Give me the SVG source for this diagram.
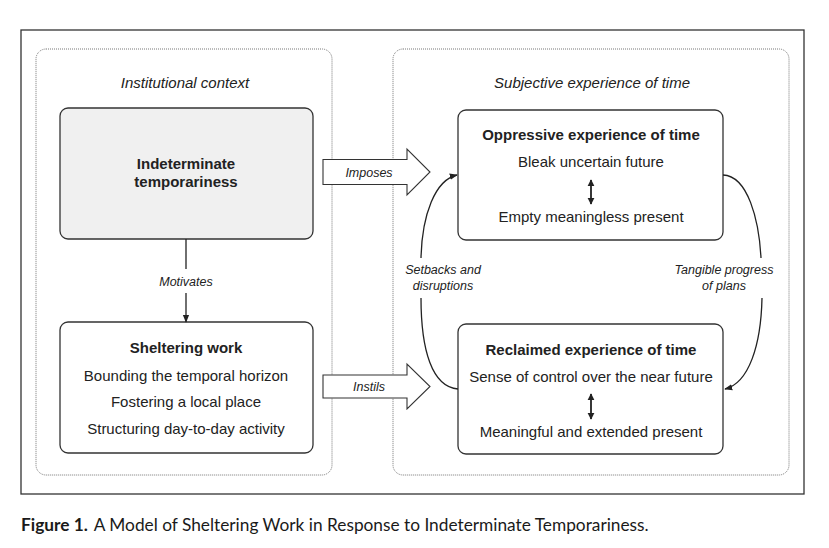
<svg xmlns="http://www.w3.org/2000/svg" width="829" height="548" viewBox="0 0 829 548">
<defs>
<marker id="ah" viewBox="0 0 10 10" refX="9" refY="5" markerWidth="8" markerHeight="8" markerUnits="userSpaceOnUse" orient="auto-start-reverse">
<path d="M0,1 L10,5 L0,9 Z" fill="#222"/>
</marker>
<marker id="dh" viewBox="0 0 10 10" refX="9" refY="5" markerWidth="7" markerHeight="8" markerUnits="userSpaceOnUse" orient="auto-start-reverse">
<path d="M0,0 L10,5 L0,10 Z" fill="#222"/>
</marker>
</defs>
<style>
.frame{fill:#fff;stroke:#333;stroke-width:1.3}
.dot{fill:none;stroke:#777;stroke-width:1;stroke-dasharray:1 1}
.node{fill:#fff;stroke:#333;stroke-width:1.3}
.grey{fill:#f0f0f0}
.t{font-family:"Liberation Sans",Arial,sans-serif;font-size:15px;fill:#222;text-anchor:middle}
.b{font-weight:bold}
.i{font-style:italic}
.lab{font-family:"Liberation Sans",Arial,sans-serif;font-size:12.5px;font-style:italic;fill:#222;text-anchor:middle}
.ln{fill:none;stroke:#222;stroke-width:1.3}
.dbl{fill:none;stroke:#222;stroke-width:1.8}
.blk{fill:#fff;stroke:#333;stroke-width:1.1}
.cap{font-family:Lato,"Open Sans",sans-serif;font-size:17.3px;fill:#1a1a1a}
</style>
<rect width="829" height="548" fill="#fff"/>
<rect class="frame" x="21" y="30" width="783" height="464"/>
<g id="group-institutional">
<rect class="dot" x="36" y="49" width="296" height="426" rx="10"/>
<text class="t i" x="185" y="88">Institutional context</text>
</g>
<g id="group-subjective">
<rect class="dot" x="393" y="49" width="396" height="426" rx="10"/>
<text class="t i" x="592" y="88">Subjective experience of time</text>
</g>
<g id="node-indeterminate">
<rect class="node grey" x="60" y="108" width="253" height="131" rx="8"/>
<text class="t b" x="186" y="169">Indeterminate</text>
<text class="t b" x="186" y="187">temporariness</text>
</g>
<g id="node-sheltering">
<rect class="node" x="60" y="322" width="253" height="131" rx="8"/>
<text class="t b" x="186" y="353">Sheltering work</text>
<text class="t" x="186" y="381">Bounding the temporal horizon</text>
<text class="t" x="186" y="407">Fostering a local place</text>
<text class="t" x="186" y="434">Structuring day-to-day activity</text>
</g>
<g id="node-oppressive">
<rect class="node" x="458" y="110" width="265" height="130" rx="8"/>
<text class="t b" x="591" y="140">Oppressive experience of time</text>
<text class="t" x="591" y="167">Bleak uncertain future</text>
<text class="t" x="591" y="222">Empty meaningless present</text>
</g>
<g id="node-reclaimed">
<rect class="node" x="458" y="324" width="265" height="130" rx="8"/>
<text class="t b" x="591" y="355">Reclaimed experience of time</text>
<text class="t" x="591" y="382">Sense of control over the near future</text>
<text class="t" x="591" y="437">Meaningful and extended present</text>
</g>
<g id="connectors">
<line class="ln" x1="186" y1="239" x2="186" y2="269"/>
<text class="lab" x="186" y="286">Motivates</text>
<line class="ln" x1="186" y1="293" x2="186" y2="322" marker-end="url(#ah)"/>
<path class="blk" d="M323,159.5 L407,159.5 L407,149 L430,172 L407,195 L407,184.5 L323,184.5 Z"/>
<text class="lab" x="369" y="177">Imposes</text>
<path class="blk" d="M323,375 L407,375 L407,364 L430,386.5 L407,409 L407,398 L323,398 Z"/>
<text class="lab" x="369" y="391">Instils</text>
<path class="ln" d="M458,389 C432,387 421,350 421,298"/>
<path class="ln" d="M421,258 C422,215 435,180 457,175" marker-end="url(#ah)"/>
<text class="lab" x="443" y="274">Setbacks and</text>
<text class="lab" x="443" y="290">disruptions</text>
<path class="ln" d="M723,175 C748,176 759,220 761,258"/>
<path class="ln" d="M762,298 C761,345 749,383 725,389" marker-end="url(#ah)"/>
<text class="lab" x="724" y="274">Tangible progress</text>
<text class="lab" x="724" y="290">of plans</text>
<line class="dbl" x1="591" y1="180" x2="591" y2="204" marker-start="url(#dh)" marker-end="url(#dh)"/>
<line class="dbl" x1="591" y1="394" x2="591" y2="419" marker-start="url(#dh)" marker-end="url(#dh)"/>
</g>
<text class="cap" x="21" y="531"><tspan font-weight="bold">Figure 1.</tspan><tspan dx="6">A Model of Sheltering Work in Response to Indeterminate Temporariness.</tspan></text>
</svg>
